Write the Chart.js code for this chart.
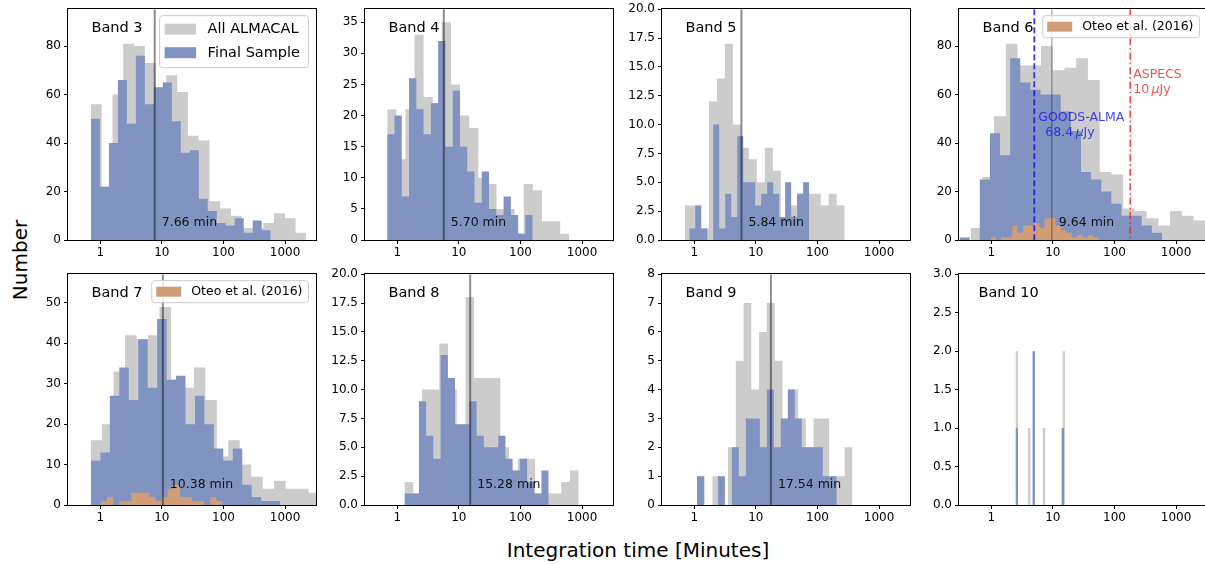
<!DOCTYPE html>
<html>
<head>
<meta charset="utf-8">
<script src="https://cdn.jsdelivr.net/npm/chart.js@4.4.0/dist/chart.umd.min.js"></script>
<style>
  body { margin: 0; width: 1205px; height: 564px; overflow: hidden; position: relative; background: #fff; font-family: "DejaVu Sans", sans-serif; }
  canvas { position: absolute; }
  #ylab { position: absolute; left: 20px; top: 260px; transform: translate(-50%, -50%) rotate(-90deg); font-size: 20px; white-space: nowrap; }
  #xlab { position: absolute; left: 638px; top: 550px; transform: translate(-50%, -50%); font-size: 20px; white-space: nowrap; }
</style>
</head>
<body>
<div id="ylab">Number</div>
<div id="xlab">Integration time [Minutes]</div>
<script>
// each histogram: 20 log-spaced bins between [min, max] minutes
const band3AllRange = [0.707, 2212];
const band3All = [56, 22, 60, 81, 80, 73, 62, 68, 61, 43, 41, 16, 13, 10, 5, 5, 7, 11, 9, 3];
const band3FinalRange = [0.707, 584];
const band3Final = [50, 22, 40, 66, 48, 76, 56, 63, 65, 49, 36, 37, 17, 12, 7, 6, 9, 3, 8, 4];

const band4AllRange = [0.688, 620];
const band4All = [21, 13, 21, 33, 23, 22, 35, 25, 20, 18, 10, 9, 5, 5, 1, 9, 8, 3, 3, 1];
const band4FinalRange = [0.688, 157.8];
const band4Final = [17, 20, 7, 26, 21, 17, 22, 32, 15, 24, 15, 11, 6, 11, 5, 4, 7, 4, 1, 4];

const band5AllRange = [0.707, 277];
const band5All = [3, 3, 1, 12, 14, 17, 10, 8, 7, 5, 8, 6, 2, 3, 4, 4, 4, 3, 4, 3];
const band5FinalRange = [0.831, 73.2];
const band5Final = [1, 3, 1, 0, 10, 1, 4, 2, 9, 5, 5, 3, 4, 5, 4, 2, 5, 2, 4, 5];

const band6AllRange = [0.462, 2973];
const band6All = [5, 26, 51, 81, 72, 72, 80, 70, 71, 75, 66, 28, 27, 13, 12, 9, 6, 12, 10, 8];
const band6FinalRange = [0.306, 590];
const band6Final = [1, 0, 25, 44, 35, 75, 65, 62, 60, 60, 53, 45, 28, 25, 20, 15, 10, 10, 6, 3];
const band6OteoRange = [0.975, 55.5];
const band6Oteo = [1, 0, 1, 1, 6, 3, 6, 6, 7, 5, 9, 9, 6, 4, 3, 1, 2, 1, 2, 1];

const band7AllRange = [0.70, 3681];
const band7All = [16, 20, 33, 42, 41, 42, 49, 31, 29, 34, 26, 12, 16, 10, 7, 4, 6, 4, 4, 3];
const band7FinalRange = [0.707, 828];
const band7Final = [11, 13, 27, 34, 26, 41, 29, 46, 31, 32, 20, 27, 20, 14, 11, 14, 5, 2, 1, 1];
const band7OteoRange = [1.026, 96.2];
const band7Oteo = [1, 2, 0, 1, 1, 3, 3, 3, 2, 1, 2, 4, 5, 2, 2, 1, 1, 0, 2, 1];

const band8AllRange = [1.313, 879];
const band8All = [2, 1, 10, 10, 14, 10, 7, 18, 11, 11, 11, 5, 3, 4, 4, 1, 1, 1, 2, 3];
const band8FinalRange = [1.313, 287];
const band8Final = [1, 1, 9, 6, 4, 13, 11, 7, 7, 9, 6, 5, 5, 6, 4, 3, 4, 2, 1, 3];

const band9AllRange = [1.106, 369];
const band9All = [1, 0, 1, 0, 2, 5, 7, 4, 6, 7, 5, 3, 4, 3, 2, 3, 3, 1, 1, 2];
const band9FinalRange = [1.106, 205.5];
const band9Final = [1, 0, 0, 1, 0, 2, 1, 3, 3, 2, 4, 2, 3, 4, 3, 2, 2, 2, 1, 1];

const band10AllRange = [2.48, 15.8];
const band10All = [2, 0, 0, 0, 0, 1, 0, 0, 0, 0, 0, 1, 0, 0, 0, 0, 0, 0, 0, 2];
const band10FinalRange = [2.48, 15.2];
const band10Final = [1, 0, 0, 0, 0, 0, 0, 2, 0, 0, 0, 0, 0, 0, 0, 0, 0, 0, 0, 1];

const bandNames = ['Band 3', 'Band 4', 'Band 5', 'Band 6', 'Band 7', 'Band 8', 'Band 9', 'Band 10'];
const medianMinutes = [7.66, 5.70, 5.84, 9.64, 10.38, 15.28, 17.54, null];
const goodsAlmaMinutes = 5.0;
const aspecsMinutes = 180;

const xTickValues = [1, 10, 100, 1000];
const yTicksBand3 = [0, 20, 40, 60, 80];
const yTicksBand4 = [0, 5, 10, 15, 20, 25, 30, 35];
const yTicksBand5 = [0, 2.5, 5, 7.5, 10, 12.5, 15, 17.5, 20];
const yTicksBand6 = [0, 20, 40, 60, 80];
const yTicksBand7 = [0, 10, 20, 30, 40, 50];
const yTicksBand8 = [0, 2.5, 5, 7.5, 10, 12.5, 15, 17.5, 20];
const yTicksBand9 = [0, 1, 2, 3, 4, 5, 6, 7, 8];
const yTicksBand10 = [0, 0.5, 1, 1.5, 2, 2.5, 3];
const yMax = [95.2, 37.1, 20, 95.2, 57.1, 20, 8, 3];

const GRAY = '#cccccc';
const BLUE = '#8093c1';
const TAN = '#d09d76';
const FONT = '"DejaVu Sans", sans-serif';
Chart.defaults.font.family = FONT;

const colLeft = [16, 313, 610, 907];
const rowTop = [-1, 264];

function steps(range, counts) {
  const a = Math.log10(range[0]), b = Math.log10(range[1]), n = counts.length;
  const edge = i => Math.pow(10, a + (b - a) * i / n);
  const pts = counts.map((c, i) => ({ x: edge(i), y: c }));
  pts.push({ x: edge(n), y: counts[n - 1] });
  return pts;
}

function drawLegend(ctx, area, items, o) {
  ctx.save();
  ctx.font = o.font;
  const tw = Math.max(...items.map(it => ctx.measureText(it.label).width));
  const w = o.padL + o.patchW + o.gap + tw + o.padR;
  const x = area.right - 8 - w, y = area.top + 6;
  ctx.beginPath();
  ctx.roundRect(x + 0.5, y + 0.5, w, o.h, 3);
  ctx.fillStyle = 'rgba(255,255,255,0.8)';
  ctx.fill();
  ctx.strokeStyle = '#cccccc';
  ctx.lineWidth = 1;
  ctx.stroke();
  ctx.textBaseline = 'middle';
  items.forEach((it, i) => {
    const cy = y + o.rows[i];
    ctx.fillStyle = it.color;
    ctx.fillRect(x + o.padL, cy - o.patchH / 2, o.patchW, o.patchH);
    ctx.fillStyle = '#000';
    ctx.fillText(it.label, x + o.padL + o.patchW + o.gap, cy + 0.5);
  });
  ctx.restore();
}

function drawRich(ctx, x, y, parts, size, color) {
  ctx.fillStyle = color;
  parts.forEach(p => {
    ctx.font = (p.it ? 'italic ' : '') + size + 'px ' + FONT;
    ctx.fillText(p.t, x, y);
    x += ctx.measureText(p.t).width;
  });
}

function overlay(k) {
  return {
    id: 'overlay' + k,
    afterDraw(chart) {
      const ctx = chart.ctx, a = chart.chartArea, xs = chart.scales.x;
      ctx.save();
      ctx.beginPath();
      ctx.rect(a.left, a.top, a.right - a.left, a.bottom - a.top);
      ctx.clip();
      const med = medianMinutes[k];
      if (med) {
        const px = xs.getPixelForValue(med);
        ctx.strokeStyle = 'rgba(0,0,0,0.45)';
        ctx.lineWidth = k === 3 ? 1 : 2;
        ctx.beginPath(); ctx.moveTo(px, a.top); ctx.lineTo(px, a.bottom); ctx.stroke();
      }
      if (k === 3) {
        const gx = xs.getPixelForValue(goodsAlmaMinutes);
        ctx.strokeStyle = 'rgba(20,20,235,0.85)';
        ctx.lineWidth = 1.8;
        ctx.setLineDash([6, 3]);
        ctx.beginPath(); ctx.moveTo(gx, a.top); ctx.lineTo(gx, a.bottom); ctx.stroke();
        const ax = xs.getPixelForValue(aspecsMinutes);
        ctx.strokeStyle = 'rgba(235,40,40,0.85)';
        ctx.lineWidth = 1.6;
        ctx.setLineDash([7, 3, 1.5, 3]);
        ctx.beginPath(); ctx.moveTo(ax, a.top); ctx.lineTo(ax, a.bottom); ctx.stroke();
        ctx.setLineDash([]);
      }
      ctx.restore();

      ctx.save();
      ctx.strokeStyle = '#000';
      ctx.lineWidth = 1;
      ctx.strokeRect(Math.round(a.left) - 0.5, Math.round(a.top) - 0.5, Math.round(a.right - a.left) + 1, Math.round(a.bottom - a.top) + 1);

      ctx.textBaseline = 'middle';
      ctx.fillStyle = '#000';
      ctx.font = '14.5px ' + FONT;
      ctx.fillText(bandNames[k], a.left + (k === 7 ? 19.5 : 23.5), a.top + 19);

      if (med) {
        ctx.font = '12.5px ' + FONT;
        ctx.fillStyle = '#111';
        ctx.fillText(med.toFixed(2) + ' min', xs.getPixelForValue(med) + 7, a.bottom - (k < 4 ? 17 : 20));
      }
      if (k === 3) {
        const gx = xs.getPixelForValue(goodsAlmaMinutes);
        const gc = 'rgba(30,30,240,0.85)';
        drawRich(ctx, gx + 4, a.top + 109, [{ t: 'GOODS-ALMA' }], 12.5, gc);
        drawRich(ctx, gx + 11, a.top + 124, [{ t: '68.4\u2009' }, { t: 'μ', it: true }, { t: 'Jy' }], 12.5, gc);
        const ax = xs.getPixelForValue(aspecsMinutes);
        const rc = 'rgba(240,50,50,0.85)';
        drawRich(ctx, ax + 3, a.top + 66, [{ t: 'ASPECS' }], 12.5, rc);
        drawRich(ctx, ax + 3, a.top + 80.5, [{ t: '10\u2009' }, { t: 'μ', it: true }, { t: 'Jy' }], 12.5, rc);
      }
      ctx.restore();

      if (k === 0) {
        drawLegend(ctx, a, [{ label: 'All ALMACAL', color: GRAY }, { label: 'Final Sample', color: BLUE }],
          { font: '14.5px ' + FONT, padL: 5.5, patchW: 31.5, patchH: 11, gap: 11.5, padR: 8, h: 52, rows: [14, 37.5] });
      }
      if (k === 3 || k === 4) {
        drawLegend(ctx, a, [{ label: 'Oteo et al. (2016)', color: TAN }],
          { font: '12.5px ' + FONT, padL: 5, patchW: 25, patchH: 10, gap: 10, padR: 5.5, h: 22, rows: [11.5] });
      }
    }
  };
}

const panelSeries = [
  [[band3AllRange, band3All, GRAY], [band3FinalRange, band3Final, BLUE]],
  [[band4AllRange, band4All, GRAY], [band4FinalRange, band4Final, BLUE]],
  [[band5AllRange, band5All, GRAY], [band5FinalRange, band5Final, BLUE]],
  [[band6AllRange, band6All, GRAY], [band6FinalRange, band6Final, BLUE], [band6OteoRange, band6Oteo, TAN]],
  [[band7AllRange, band7All, GRAY], [band7FinalRange, band7Final, BLUE], [band7OteoRange, band7Oteo, TAN]],
  [[band8AllRange, band8All, GRAY], [band8FinalRange, band8Final, BLUE]],
  [[band9AllRange, band9All, GRAY], [band9FinalRange, band9Final, BLUE]],
  [[band10AllRange, band10All, GRAY], [band10FinalRange, band10Final, BLUE]]
];
const panelYTicks = [yTicksBand3, yTicksBand4, yTicksBand5, yTicksBand6, yTicksBand7, yTicksBand8, yTicksBand9, yTicksBand10];
const panelDecimals = [0, 0, 1, 0, 0, 1, 0, 1];

panelSeries.forEach((series, k) => {
  const cv = document.createElement('canvas');
  cv.width = 306; cv.height = 269;
  cv.style.left = colLeft[k % 4] + 'px';
  cv.style.top = rowTop[Math.floor(k / 4)] + 'px';
  document.body.appendChild(cv);

  const tickFont = { family: FONT, size: 12 };
  const grid = { drawOnChartArea: false, drawTicks: true, tickLength: 4, color: '#000', lineWidth: 1 };

  new Chart(cv, {
    type: 'line',
    data: {
      datasets: series.map((s, i) => ({
        data: steps(s[0], s[1]),
        stepped: true,
        fill: 'origin',
        backgroundColor: s[2],
        borderColor: 'rgba(0,0,0,0)',
        borderWidth: 0,
        pointRadius: 0,
        order: series.length - i
      }))
    },
    options: {
      responsive: false,
      animation: false,
      devicePixelRatio: 1,
      layout: { padding: { top: 10, right: 6, left: 0, bottom: 0 } },
      plugins: { legend: { display: false }, tooltip: { enabled: false } },
      scales: {
        x: {
          type: 'logarithmic',
          min: 0.31,
          max: 3172,
          afterFit: s => { s.height = 28; },
          afterBuildTicks: s => { s.ticks = xTickValues.map(v => ({ value: v })); },
          ticks: { callback: v => String(v), font: tickFont, color: '#000', padding: 2, maxRotation: 0, autoSkip: false },
          grid: grid,
          border: { display: false }
        },
        y: {
          min: 0,
          max: yMax[k],
          afterFit: s => { s.width = 52; },
          afterBuildTicks: s => { s.ticks = panelYTicks[k].map(v => ({ value: v })); },
          ticks: { callback: v => Number(v).toFixed(panelDecimals[k]), font: tickFont, color: '#000', padding: 3, autoSkip: false },
          grid: grid,
          border: { display: false }
        }
      }
    },
    plugins: [overlay(k)]
  });
});
</script>
</body>
</html>
